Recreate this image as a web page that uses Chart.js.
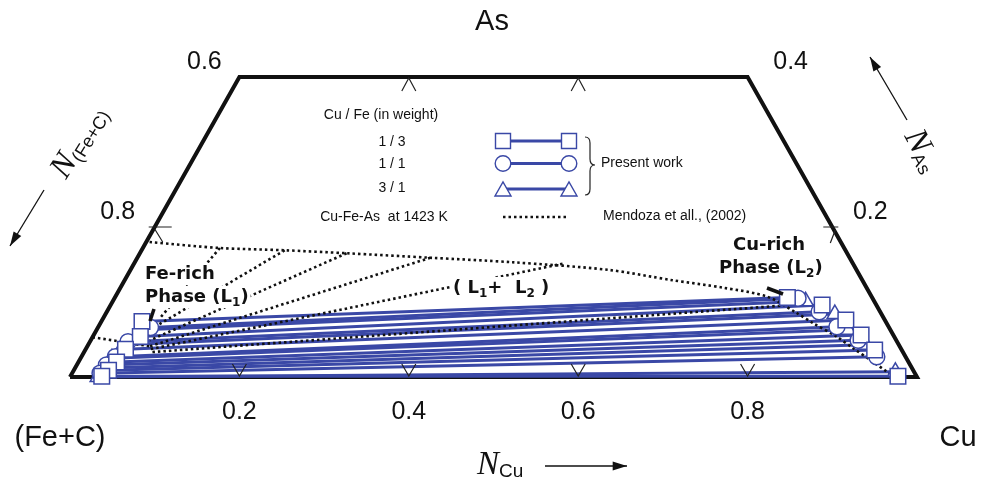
<!DOCTYPE html>
<html>
<head>
<meta charset="utf-8">
<script src="https://cdn.jsdelivr.net/npm/chart.js@4.4.1/dist/chart.umd.min.js"></script>
<style>
  body { margin: 0; background: #fff; }
  #wrap { width: 984px; height: 480px; }
</style>
</head>
<body>
<div id="wrap"><canvas id="ternary" width="984" height="480"></canvas></div>
<script>
// compositions are [N_Cu, N_As], N_(Fe+C) = 1 - N_Cu - N_As
const squareFeRich = [[0.048, 0.074], [0.056, 0.054], [0.047, 0.037], [0.045, 0.020], [0.041, 0.009], [0.037, 0.001]];
const squareCuRich = [[0.794, 0.106], [0.840, 0.096], [0.878, 0.076], [0.906, 0.056], [0.932, 0.036], [0.977, 0.001]];
const circleFeRich = [[0.062, 0.066], [0.045, 0.047], [0.040, 0.027], [0.035, 0.016], [0.033, 0.005]];
const circleCuRich = [[0.807, 0.105], [0.841, 0.087], [0.872, 0.067], [0.906, 0.049], [0.939, 0.027]];
const triangleFeRich = [[0.057, 0.063], [0.042, 0.043], [0.037, 0.025], [0.034, 0.012], [0.033, 0.000]];
const triangleCuRich = [[0.818, 0.101], [0.861, 0.084], [0.887, 0.063], [0.918, 0.043], [0.971, 0.007]];

// Mendoza et al. (2002), Cu-Fe-As at 1423 K
const mendozaGap = [[0.004, 0.180], [0.091, 0.172], [0.169, 0.169], [0.244, 0.165], [0.346, 0.159],
  [0.446, 0.153], [0.563, 0.143], [0.647, 0.129], [0.712, 0.119], [0.770, 0.107], [0.816, 0.085],
  [0.841, 0.072], [0.878, 0.054], [0.906, 0.038], [0.933, 0.023], [0.961, 0.007], [0.974, 0.0]];
const mendozaFeSide = [[0.0, 0.053], [0.038, 0.047], [0.074, 0.041]];
const mendozaTieA = [[0.091, 0.172], [0.169, 0.169], [0.244, 0.165], [0.346, 0.159], [0.506, 0.151], [0.791, 0.095]];
const mendozaTieB = [[0.067, 0.079], [0.063, 0.063], [0.070, 0.049], [0.074, 0.041], [0.076, 0.037], [0.078, 0.033]];

const cuTicks = [0.2, 0.4, 0.6, 0.8];
const frame = [[0, 0], [0, 0.4], [0.6, 0.4], [1, 0], [0, 0]];

const blue = '#3a48a6';

function toXY(p) {
  return { x: p[0] + p[1] / 2, y: p[1] };
}

const datasets = [];
datasets.push({
  data: frame.map(toXY), showLine: true, borderColor: '#111', borderWidth: 4,
  pointRadius: 0, order: 10, clip: false, borderJoinStyle: 'miter'
});

function addSeries(fe, cu, style, radius) {
  fe.forEach((p, i) => {
    datasets.push({
      data: [toXY(p), toXY(cu[i])], showLine: true, borderColor: blue, borderWidth: 3,
      pointRadius: 0, order: 6, clip: false
    });
  });
  datasets.push({
    data: fe.concat(cu).map(toXY), showLine: false, pointStyle: style, pointRadius: radius,
    backgroundColor: '#fff', borderColor: blue, borderWidth: 1.5, order: style === 'rect' ? 1 : (style === 'circle' ? 2 : 3),
    clip: false
  });
}
addSeries(triangleFeRich, triangleCuRich, 'triangle', 9);
addSeries(circleFeRich, circleCuRich, 'circle', 8);
addSeries(squareFeRich, squareCuRich, 'rect', 11);

const dotted = { showLine: true, borderColor: '#111', borderWidth: 2.6, borderDash: [2.5, 3],
  pointRadius: 0, order: 4, clip: false };
datasets.push(Object.assign({ data: mendozaGap.map(toXY), tension: 0.3 }, dotted));
datasets.push(Object.assign({ data: mendozaFeSide.map(toXY) }, dotted));
mendozaTieA.forEach((p, i) => {
  const q = mendozaTieB[i];
  datasets.push(Object.assign({ data: [toXY(p), toXY(q)] }, dotted));
});

function rich(ctx, parts, x, y, align) {
  let w = 0;
  parts.forEach(p => { ctx.font = p.font; w += ctx.measureText(p.t).width; });
  let cx = align === 'center' ? x - w / 2 : x;
  parts.forEach(p => {
    ctx.font = p.font;
    ctx.fillText(p.t, cx, y + (p.dy || 0));
    cx += ctx.measureText(p.t).width;
  });
  return w;
}

function arrow(ctx, x1, y1, x2, y2) {
  ctx.beginPath();
  ctx.moveTo(x1, y1);
  ctx.lineTo(x2, y2);
  ctx.lineWidth = 1.3;
  ctx.strokeStyle = '#111';
  ctx.stroke();
  const a = Math.atan2(y2 - y1, x2 - x1);
  ctx.beginPath();
  ctx.moveTo(x2, y2);
  ctx.lineTo(x2 - 15 * Math.cos(a - 0.3), y2 - 15 * Math.sin(a - 0.3));
  ctx.lineTo(x2 - 15 * Math.cos(a + 0.3), y2 - 15 * Math.sin(a + 0.3));
  ctx.closePath();
  ctx.fillStyle = '#111';
  ctx.fill();
}

const decor = {
  id: 'decor',
  afterDraw(chart) {
    const ctx = chart.ctx;
    const sx = chart.scales.x, sy = chart.scales.y;
    const px = p => sx.getPixelForValue(p[0] + p[1] / 2);
    const py = p => sy.getPixelForValue(p[1]);
    const sans = '"Liberation Sans", Arial, sans-serif';
    const comic = '"DejaVu Sans", sans-serif';
    ctx.save();

    // ticks
    ctx.strokeStyle = '#222';
    ctx.lineWidth = 1.2;
    const base = py([0, 0]);
    cuTicks.forEach(t => {
      const x = px([t, 0]);
      ctx.beginPath();
      ctx.moveTo(x - 7, base - 13); ctx.lineTo(x, base - 1); ctx.lineTo(x + 7, base - 13);
      ctx.stroke();
    });
    [0.2, 0.4].forEach(t => {
      const x = px([t, 0.4]), y = py([t, 0.4]);
      ctx.beginPath();
      ctx.moveTo(x - 7, y + 14); ctx.lineTo(x, y + 1); ctx.lineTo(x + 7, y + 14);
      ctx.stroke();
    });
    let lx = px([0, 0.2]), ly = py([0, 0.2]);
    ctx.beginPath();
    ctx.moveTo(lx - 6, ly); ctx.lineTo(lx + 17, ly);
    ctx.moveTo(lx, ly + 2); ctx.lineTo(lx + 8, ly + 15);
    ctx.stroke();
    lx = px([0.8, 0.2]);
    ctx.beginPath();
    ctx.moveTo(lx - 9, ly); ctx.lineTo(lx + 6, ly);
    ctx.moveTo(lx + 3, ly + 3); ctx.lineTo(lx - 2, ly + 16);
    ctx.stroke();

    // corner and axis numbers
    ctx.fillStyle = '#111';
    ctx.textAlign = 'center';
    ctx.textBaseline = 'middle';
    ctx.font = '29px ' + sans;
    ctx.fillText('As', 492, 22);
    ctx.fillText('(Fe+C)', 60, 438);
    ctx.fillText('Cu', 958, 438);
    ctx.font = '25px ' + sans;
    cuTicks.forEach(t => ctx.fillText(String(t), px([t, 0]), 412));
    ctx.fillText('0.6', px([0, 0.4]) - 35, 62);
    ctx.fillText('0.4', px([0.6, 0.4]) + 43, 62);
    ctx.fillText('0.8', px([0, 0.2]) - 37, 212);
    ctx.fillText('0.2', px([0.8, 0.2]) + 38, 212);

    // axis titles
    ctx.textAlign = 'left';
    ctx.textBaseline = 'alphabetic';
    rich(ctx, [
      { t: 'N', font: 'italic 33px "Liberation Serif", serif' },
      { t: 'Cu', font: '19px ' + sans, dy: 3 }
    ], 477, 474, 'left');
    arrow(ctx, 545, 466, 627, 466);

    ctx.save();
    ctx.translate(66, 180);
    ctx.rotate(-58 * Math.PI / 180);
    rich(ctx, [
      { t: 'N', font: 'italic 33px "Liberation Serif", serif' },
      { t: '(Fe+C)', font: '18px ' + sans, dy: 4 }
    ], 0, 0, 'left');
    ctx.restore();
    arrow(ctx, 44, 190, 10, 246);

    ctx.save();
    ctx.translate(904, 136);
    ctx.rotate(62 * Math.PI / 180);
    rich(ctx, [
      { t: 'N', font: 'italic 33px "Liberation Serif", serif' },
      { t: 'As', font: '18px ' + sans, dy: 4 }
    ], 0, 0, 'left');
    ctx.restore();
    arrow(ctx, 907, 120, 870, 57);

    // legend
    ctx.textAlign = 'center';
    ctx.textBaseline = 'middle';
    ctx.fillStyle = '#111';
    ctx.font = '14px ' + sans;
    ctx.fillText('Cu / Fe (in weight)', 381, 115);
    ctx.fillText('1 / 3', 392, 142);
    ctx.fillText('1 / 1', 392, 164);
    ctx.fillText('3 / 1', 392, 188);
    ctx.fillText('Cu-Fe-As  at 1423 K', 384, 217);
    ctx.textAlign = 'left';
    ctx.fillText('Present work', 601, 163);
    ctx.fillText('Mendoza et all., (2002)', 603, 216);

    ctx.strokeStyle = blue;
    ctx.lineWidth = 3;
    [141, 163.5, 189].forEach(y => {
      ctx.beginPath(); ctx.moveTo(505, y); ctx.lineTo(567, y); ctx.stroke();
    });
    ctx.lineWidth = 1.4;
    ctx.fillStyle = '#fff';
    [503, 569].forEach(x => {
      ctx.beginPath(); ctx.rect(x - 7.5, 133.5, 15, 15); ctx.fill(); ctx.stroke();
      ctx.beginPath(); ctx.arc(x, 163.5, 7.8, 0, Math.PI * 2); ctx.fill(); ctx.stroke();
      ctx.beginPath(); ctx.moveTo(x - 8, 196); ctx.lineTo(x + 8, 196); ctx.lineTo(x, 182); ctx.closePath();
      ctx.fill(); ctx.stroke();
    });
    ctx.strokeStyle = '#111';
    ctx.lineWidth = 2.4;
    ctx.setLineDash([2.5, 3]);
    ctx.beginPath(); ctx.moveTo(503, 217); ctx.lineTo(566, 217); ctx.stroke();
    ctx.setLineDash([]);

    // brace
    ctx.lineWidth = 1.2;
    ctx.strokeStyle = '#222';
    ctx.beginPath();
    ctx.moveTo(585, 137);
    ctx.quadraticCurveTo(590, 137, 590, 143);
    ctx.lineTo(590, 159);
    ctx.quadraticCurveTo(590, 165, 595, 165);
    ctx.quadraticCurveTo(590, 165, 590, 171);
    ctx.lineTo(590, 189);
    ctx.quadraticCurveTo(590, 195, 585, 195);
    ctx.stroke();

    // phase labels
    ctx.fillStyle = '#111';
    ctx.textBaseline = 'alphabetic';
    const big = 'bold 18px ' + comic, sub = 'bold 12px ' + comic;
    function label(parts, x, y) {
      ctx.fillStyle = '#fff';
      let w = 0;
      parts.forEach(p => { ctx.font = p.font; w += ctx.measureText(p.t).width; });
      ctx.fillRect(x - 2, y - 16, w + 4, 22);
      ctx.fillStyle = '#111';
      rich(ctx, parts, x, y, 'left');
    }
    label([{ t: 'Fe-rich', font: big }], 145, 279);
    label([{ t: 'Phase (L', font: big }, { t: '1', font: sub, dy: 4 }, { t: ')', font: big }], 145, 302);
    label([{ t: 'Cu-rich', font: big }], 733, 250);
    label([{ t: 'Phase (L', font: big }, { t: '2', font: sub, dy: 4 }, { t: ')', font: big }], 719, 273);
    label([{ t: '( L', font: big }, { t: '1', font: sub, dy: 4 }, { t: '+  L', font: big },
      { t: '2', font: sub, dy: 4 }, { t: ' )', font: big }], 453, 293);

    ctx.strokeStyle = '#111';
    ctx.lineWidth = 3.5;
    ctx.beginPath(); ctx.moveTo(154, 309); ctx.lineTo(150, 321); ctx.stroke();
    ctx.beginPath(); ctx.moveTo(767, 288); ctx.lineTo(783, 294); ctx.stroke();

    ctx.restore();
  }
};

new Chart(document.getElementById('ternary'), {
  type: 'scatter',
  data: { datasets: datasets },
  options: {
    responsive: false,
    animation: false,
    layout: { padding: { left: 70, right: 67, top: 77, bottom: 103 } },
    scales: {
      x: { type: 'linear', min: 0, max: 1, display: false },
      y: { type: 'linear', min: 0, max: 0.4, display: false }
    },
    plugins: { legend: { display: false }, tooltip: { enabled: false } }
  },
  plugins: [decor]
});
</script>
</body>
</html>
